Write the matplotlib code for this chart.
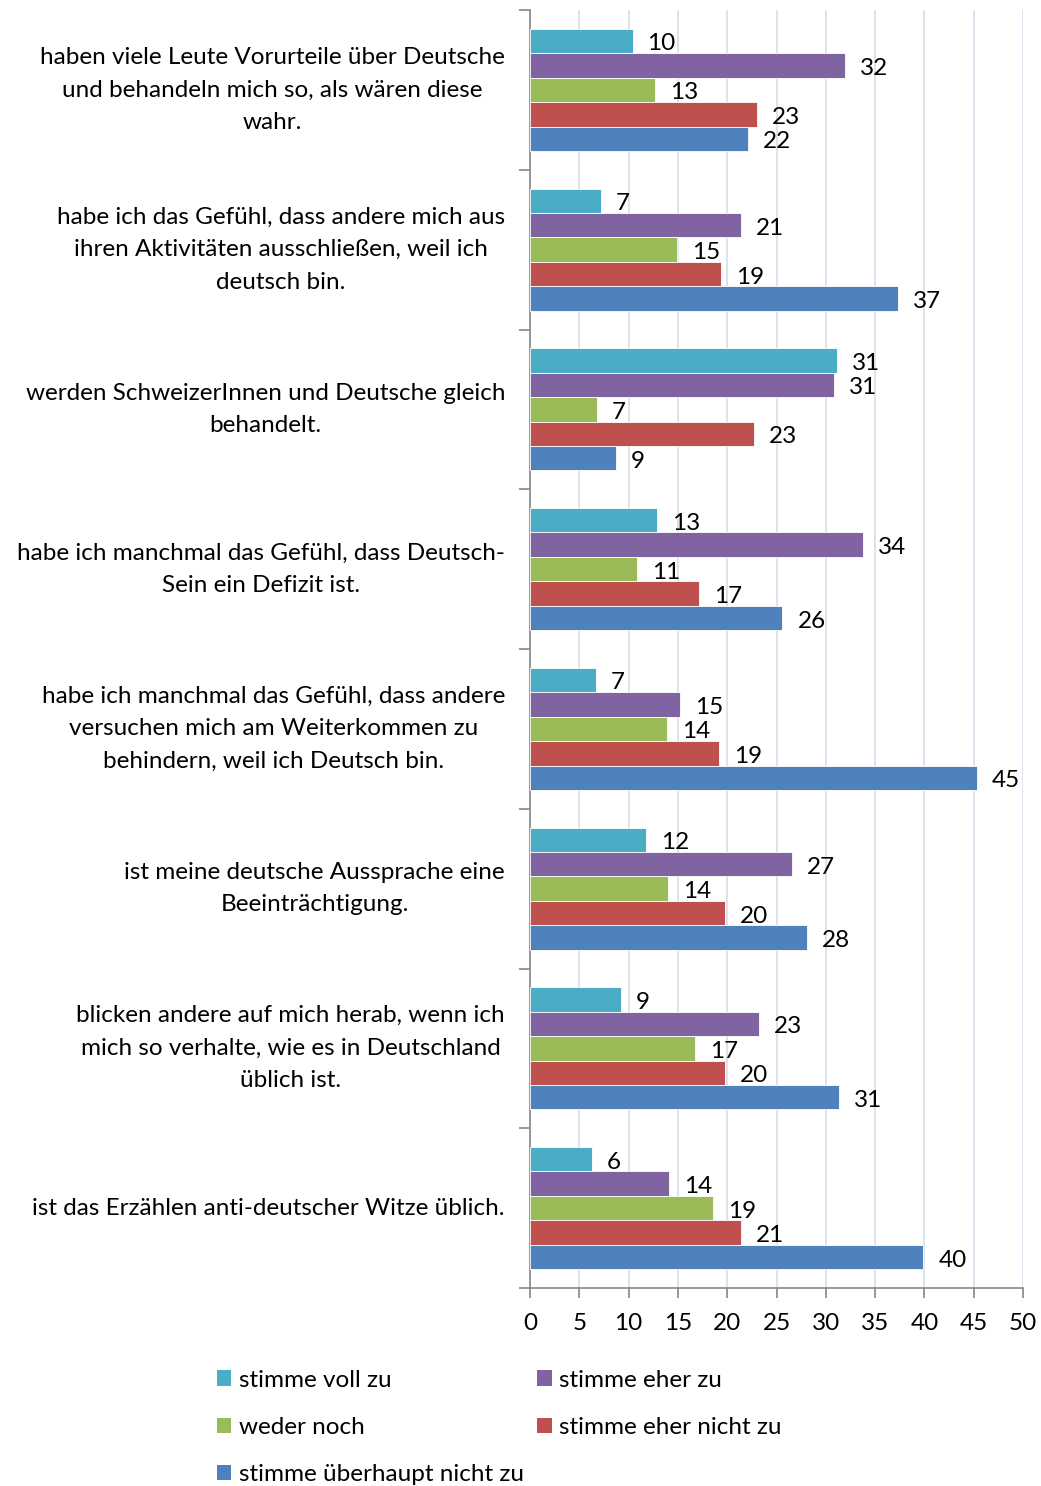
import matplotlib
matplotlib.use("Agg")
import matplotlib.pyplot as plt
from matplotlib.patches import Patch
import numpy as np

plt.rcParams['font.family'] = ['Lato', 'DejaVu Sans']

categories = [
    "haben viele Leute Vorurteile über Deutsche\nund behandeln mich so, als wären diese\nwahr.",
    "habe ich das Gefühl, dass andere mich aus\nihren Aktivitäten ausschließen, weil ich\ndeutsch bin.",
    "werden SchweizerInnen und Deutsche gleich\nbehandelt.",
    "habe ich manchmal das Gefühl, dass Deutsch-\nSein ein Defizit ist.",
    "habe ich manchmal das Gefühl, dass andere\nversuchen mich am Weiterkommen zu\nbehindern, weil ich Deutsch bin.",
    "ist meine deutsche Aussprache eine\nBeeinträchtigung.",
    "blicken andere auf mich herab, wenn ich\nmich so verhalte, wie es in Deutschland\nüblich ist.",
    "ist das Erzählen anti-deutscher Witze üblich.",
]

series_names = ["stimme voll zu", "stimme eher zu", "weder noch",
                "stimme eher nicht zu", "stimme überhaupt nicht zu"]

voll_zu = [10.4, 7.2, 31.1, 12.9, 6.7, 11.8, 9.2, 6.3]
eher_zu = [31.9, 21.4, 30.8, 33.8, 15.2, 26.6, 23.2, 14.1]
weder_noch = [12.7, 14.9, 6.8, 10.9, 13.9, 14.0, 16.7, 18.6]
eher_nicht_zu = [23.0, 19.4, 22.7, 17.1, 19.2, 19.8, 19.8, 21.4]
ueberhaupt_nicht_zu = [22.1, 37.3, 8.7, 25.6, 45.3, 28.1, 31.3, 39.9]

series_values = [voll_zu, eher_zu, weder_noch, eher_nicht_zu, ueberhaupt_nicht_zu]
colors = ["#4BACC6", "#8064A2", "#9BBB59", "#C0504D", "#4F81BD"]

xticks = [0, 5, 10, 15, 20, 25, 30, 35, 40, 45, 50]

FS = 17.5

fig = plt.figure(figsize=(10.41, 14.86), dpi=100)
ax = fig.add_axes([530/1041, 1-1288/1486, 493/1041, 1278/1486])

n = len(categories)
ypos = np.arange(n)
bh = 0.153
offsets = (np.arange(5) - 2) * bh

for vals, off, col in zip(series_values, offsets, colors):
    bars = ax.barh(ypos + off, vals, height=bh, color=col,
                   edgecolor='white', linewidth=0.6, zorder=3)
    for b, v in zip(bars, vals):
        ax.annotate(f"{v:.0f}", (b.get_width(), b.get_y() + b.get_height()/2),
                    xytext=(15, -3), textcoords='offset pixels',
                    va='center', ha='left', fontsize=FS, color='black')

ax.set_xlim(0, 50)
ax.set_ylim(n - 0.5, -0.5)
ax.set_xticks(xticks)
ax.set_xticklabels([str(t) for t in xticks], fontsize=FS)
ax.xaxis.grid(True, color='#D5DEEC', linewidth=1.2, zorder=0)
ax.set_axisbelow(True)

ax.set_yticks(np.arange(n + 1) - 0.5)
ax.set_yticklabels([])
ax.set_yticks(ypos, minor=True)
ax.set_yticklabels(categories, minor=True, fontsize=FS, multialignment='center',
                   linespacing=1.68, va='center')
ax.tick_params(axis='y', which='minor', length=0, pad=18)
ax.tick_params(axis='y', which='major', length=8, color='#868686', width=1.2)
ax.tick_params(axis='x', length=7, color='#868686', width=1.2, pad=11)

for s in ['top', 'right']:
    ax.spines[s].set_visible(False)
for s in ['left', 'bottom']:
    ax.spines[s].set_color('#868686')
    ax.spines[s].set_linewidth(1.2)

handles = [Patch(facecolor=c, edgecolor='none') for c in colors]
order = [0, 2, 4, 1, 3]
fig.legend([handles[i] for i in order], [series_names[i] for i in order],
           loc='upper left', bbox_to_anchor=(207/1041, 1-1360/1486),
           ncol=2, frameon=False, fontsize=FS, handlelength=0.6, handleheight=0.6,
           handletextpad=0.3, labelspacing=1.08, columnspacing=0.55, borderaxespad=0)

fig.savefig("out.png", dpi=100)
